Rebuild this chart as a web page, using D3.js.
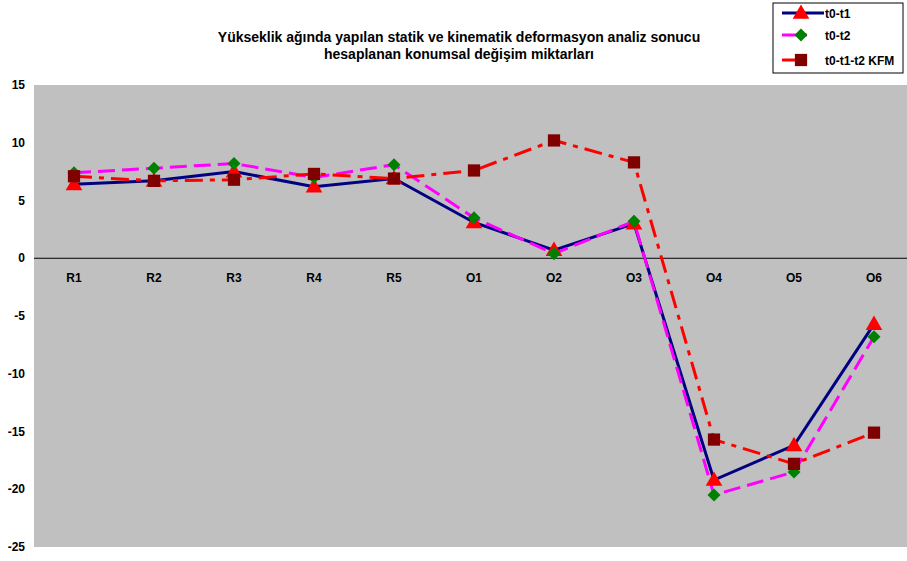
<!DOCTYPE html>
<html>
<head>
<meta charset="utf-8">
<script src="https://cdn.jsdelivr.net/npm/d3@7"></script>
<style>
  body { margin: 0; background: #fff; }
  svg { display: block; font-family: "Liberation Sans", Arial, sans-serif; }
</style>
</head>
<body>
<div id="vis"></div>
<script>

// chart data
var categories = ['R1', 'R2', 'R3', 'R4', 'R5', 'O1', 'O2', 'O3', 'O4', 'O5', 'O6'];
var t0t1 = [6.4, 6.7, 7.5, 6.2, 6.9, 3.1, 0.7, 3.0, -19.2, -16.2, -5.7];
var t0t2 = [7.4, 7.8, 8.2, 7.0, 8.1, 3.5, 0.4, 3.2, -20.5, -18.5, -6.8];
var kfm  = [7.1, 6.7, 6.8, 7.3, 6.9, 7.6, 10.2, 8.3, -15.7, -17.8, -15.1];
var yTicks = [15, 10, 5, 0, -5, -10, -15, -20, -25];
var titleLines = ['Yükseklik ağında yapılan statik ve kinematik deformasyon analiz sonucu',
                  'hesaplanan konumsal değişim miktarları'];

var width = 907;
var height = 561;
var plot = { left: 34, right: 914, top: 85, bottom: 547 };

var series = [
  { name: 't0-t1', values: t0t1, stroke: '#000080', dash: null, marker: 'triangle', fill: '#ff0000', size: 120, rot: 0 },
  { name: 't0-t2', values: t0t2, stroke: '#ff00ff', dash: '17,7', marker: 'diamond', fill: '#008000', size: 85, rot: 45 },
  { name: 't0-t1-t2 KFM', values: kfm, stroke: '#ff0000', dash: '18,7,5,7', marker: 'square', fill: '#800000', size: 150, rot: 0 }
];

var svg = d3.select('#vis').append('svg')
  .attr('width', width)
  .attr('height', height);

var x = d3.scaleBand()
  .domain(categories)
  .range([plot.left, plot.right]);

var y = d3.scaleLinear()
  .domain([-25, 15])
  .range([plot.bottom, plot.top]);

function cx(c) { return x(c) + x.bandwidth() / 2; }

// plot area
svg.append('rect')
  .attr('x', plot.left)
  .attr('y', plot.top)
  .attr('width', plot.right - plot.left)
  .attr('height', plot.bottom - plot.top)
  .attr('fill', '#c0c0c0');

// y tick labels
svg.selectAll('.yLabel')
  .data(yTicks)
  .enter().append('text')
  .attr('class', 'yLabel')
  .attr('x', 25)
  .attr('y', function (d) { return y(d) + 4; })
  .attr('text-anchor', 'end')
  .attr('font-size', 12)
  .attr('font-weight', 'bold')
  .text(function (d) { return d; });

// zero line
svg.append('line')
  .attr('x1', plot.left)
  .attr('x2', width)
  .attr('y1', y(0))
  .attr('y2', y(0))
  .attr('stroke', '#000')
  .attr('stroke-width', 1);

// category labels
svg.selectAll('.xLabel')
  .data(categories)
  .enter().append('text')
  .attr('class', 'xLabel')
  .attr('x', cx)
  .attr('y', y(0) + 24)
  .attr('text-anchor', 'middle')
  .attr('font-size', 12)
  .attr('font-weight', 'bold')
  .text(function (d) { return d; });

var line = d3.line()
  .x(function (d, i) { return cx(categories[i]); })
  .y(function (d) { return y(d); });

var symbols = {
  triangle: d3.symbolTriangle,
  diamond: d3.symbolSquare,
  square: d3.symbolSquare
};

// lines first, then markers on top
series.forEach(function (s) {
  svg.append('path')
    .datum(s.values)
    .attr('d', line)
    .attr('fill', 'none')
    .attr('stroke', s.stroke)
    .attr('stroke-width', 3)
    .attr('stroke-dasharray', s.dash);
});

series.forEach(function (s) {
  svg.selectAll('.m-' + s.marker)
    .data(s.values)
    .enter().append('path')
    .attr('class', 'm-' + s.marker)
    .attr('transform', function (d, i) {
      var dy = s.marker === 'triangle' ? 1 : 0;
      return 'translate(' + cx(categories[i]) + ',' + (y(d) + dy) + ') rotate(' + s.rot + ')';
    })
    .attr('d', d3.symbol().type(symbols[s.marker]).size(s.size))
    .attr('fill', s.fill);
});

// title
svg.append('text')
  .attr('x', 459)
  .attr('y', 42)
  .attr('text-anchor', 'middle')
  .attr('font-size', 14)
  .attr('font-weight', 'bold')
  .selectAll('tspan')
  .data(titleLines)
  .enter().append('tspan')
  .attr('x', 459)
  .attr('dy', function (d, i) { return i === 0 ? 0 : 17; })
  .text(function (d) { return d; });

// legend
var legend = svg.append('g').attr('transform', 'translate(773,3)');

legend.append('rect')
  .attr('width', 130)
  .attr('height', 70)
  .attr('fill', '#fff')
  .attr('stroke', '#000')
  .attr('stroke-width', 1);

var rows = [10, 32, 57];
var lens = [42, 25, 23];

series.forEach(function (s, i) {
  var g = legend.append('g').attr('transform', 'translate(0,' + rows[i] + ')');
  g.append('line')
    .attr('x1', 9)
    .attr('x2', 9 + lens[i])
    .attr('stroke', s.stroke)
    .attr('stroke-width', 3);
  g.append('path')
    .attr('transform', 'translate(28,' + (s.marker === 'triangle' ? 1 : 0) + ') rotate(' + s.rot + ')')
    .attr('d', d3.symbol().type(symbols[s.marker]).size(s.size))
    .attr('fill', s.fill);
  g.append('text')
    .attr('x', 52)
    .attr('y', 5)
    .attr('font-size', 12)
    .attr('font-weight', 'bold')
    .text(s.name);
});

</script>
</body>
</html>
